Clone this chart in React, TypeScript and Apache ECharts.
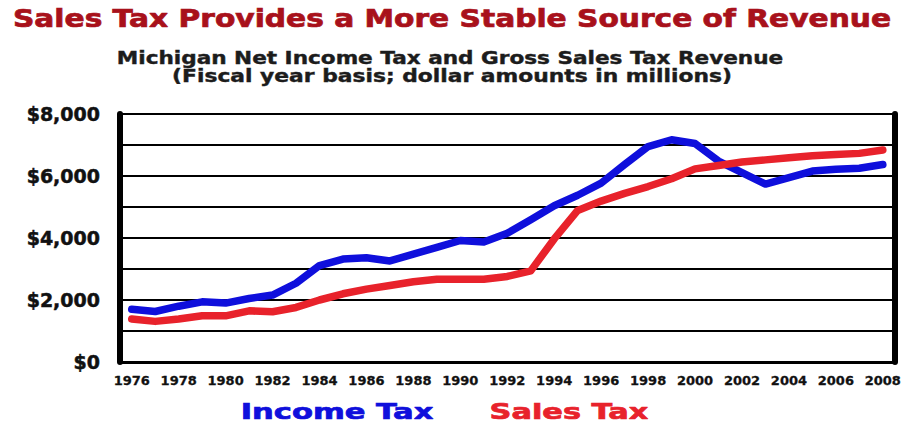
import React, { useEffect, useRef } from "react";
import * as echarts from "echarts";

const years = [
  "1976", "1977", "1978", "1979", "1980", "1981", "1982", "1983", "1984", "1985", "1986",
  "1987", "1988", "1989", "1990", "1991", "1992", "1993", "1994", "1995", "1996", "1997",
  "1998", "1999", "2000", "2001", "2002", "2003", "2004", "2005", "2006", "2007", "2008",
];

const incomeTax = [
  1700, 1630, 1800, 1940, 1900, 2050, 2160, 2540, 3110, 3320, 3360,
  3260, 3480, 3700, 3920, 3870, 4150, 4590, 5040, 5380, 5770, 6370,
  6950, 7170, 7050, 6480, 6110, 5740, 5950, 6160, 6220, 6250, 6370,
];

const salesTax = [
  1390, 1310, 1390, 1490, 1490, 1650, 1620, 1760, 2000, 2200, 2350,
  2470, 2590, 2670, 2670, 2670, 2760, 2940, 3970, 4890, 5190, 5440,
  5660, 5910, 6230, 6340, 6450, 6520, 6590, 6650, 6690, 6730, 6840,
];

const yTicks = { min: 0, max: 8000, interval: 1000 };

const TITLE = "Sales Tax Provides a More Stable Source of Revenue";
const SUB1 = "Michigan Net Income Tax and Gross Sales Tax Revenue";
const SUB2 = "(Fiscal year basis; dollar amounts in millions)";
const seriesNames = ["Income Tax", "Sales Tax"];

const BLUE = "#0f0fdc";
const RED = "#e8222b";
const FONT = '"DejaVu Sans", sans-serif';

function heavyText(text: string, x: number, y: number, scaleX: number, size: number, color: string, stroke: number) {
  return {
    type: "text", x, y, scaleX,
    style: {
      text, fill: color, stroke: color, lineWidth: stroke,
      fontSize: size, fontWeight: "bold", fontFamily: FONT,
      textAlign: "center", textVerticalAlign: "middle", verticalAlign: "middle",
    },
  };
}

export default function App() {
  const ref = useRef<HTMLDivElement>(null);
  useEffect(() => {
    if (!ref.current) return;
    const chart = echarts.init(ref.current, null, { renderer: "svg" });
    chart.setOption({
      animation: false,
      backgroundColor: "#ffffff",
      grid: { left: 120, right: 6, top: 114, bottom: 61, containLabel: false },
      graphic: [
        heavyText(TITLE, 452, 19, 1.237, 24, "#a8111b", 0.7),
        heavyText(SUB1, 450, 58, 1.27, 17, "#1c1c1c", 0.4),
        heavyText(SUB2, 452, 76, 1.283, 17, "#1c1c1c", 0.4),
        heavyText(seriesNames[0], 337, 411, 1.39, 22, BLUE, 0.7),
        heavyText(seriesNames[1], 569, 411, 1.38, 22, RED, 0.7),
      ],
      xAxis: {
        type: "category",
        data: years,
        boundaryGap: true,
        axisLine: { show: true, lineStyle: { color: "#000", width: 3 } },
        axisTick: { show: false },
        axisLabel: {
          interval: 1, color: "#111", fontSize: 13, fontWeight: "bold", fontFamily: FONT, margin: 12,
          textBorderColor: "#111", textBorderWidth: 0.3,
        },
        splitLine: { show: false },
      },
      yAxis: [
        {
          type: "value",
          min: yTicks.min, max: yTicks.max, interval: yTicks.interval,
          axisLine: { show: true, lineStyle: { color: "#000", width: 6 } },
          axisTick: { show: false },
          axisLabel: {
            color: "#111", fontSize: 19, fontWeight: "bold", fontFamily: FONT, margin: 20,
            textBorderColor: "#111", textBorderWidth: 0.5,
            formatter: (v: number) => (v % 2000 === 0 ? "$" + v.toLocaleString("en-US") : ""),
          },
          splitLine: { show: true, lineStyle: { color: "#000", width: 2 } },
        },
        {
          type: "value", position: "right",
          min: yTicks.min, max: yTicks.max, interval: yTicks.interval,
          axisLine: { show: true, lineStyle: { color: "#000", width: 6 } },
          axisTick: { show: false }, axisLabel: { show: false }, splitLine: { show: false },
        },
      ],
      series: [
        {
          name: seriesNames[0], type: "line", data: incomeTax, showSymbol: false, symbol: "none",
          lineStyle: { color: BLUE, width: 7.5, cap: "round", join: "round" }, z: 3,
        },
        {
          name: seriesNames[1], type: "line", data: salesTax, showSymbol: false, symbol: "none",
          lineStyle: { color: RED, width: 7.5, cap: "round", join: "round" }, z: 4,
        },
      ],
    });
    return () => chart.dispose();
  }, []);
  return <div ref={ref} style={{ width: 904, height: 423, position: "absolute", left: 0, top: 0 }} />;
}
